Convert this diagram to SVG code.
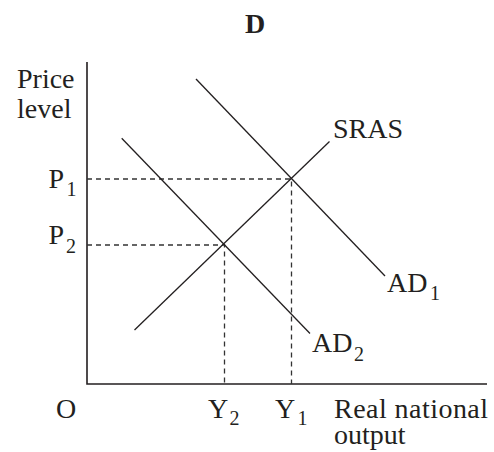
<svg xmlns="http://www.w3.org/2000/svg" width="494" height="452" viewBox="0 0 494 452">
<style>
text{font-family:"Liberation Serif","Times New Roman",serif;font-size:28px;fill:#231f20}
.sub{font-size:20px}
.ln{stroke:#231f20;stroke-width:1.3;fill:none}
.ax{stroke:#231f20;stroke-width:1.6;fill:none}
.dash{stroke:#333;stroke-width:1.3;stroke-dasharray:5,4;fill:none}
</style>
<rect width="494" height="452" fill="#fff"/>
<g id="title"><text x="255" y="33" text-anchor="middle" font-weight="bold">D</text></g>
<g id="axes">
<path class="ax" d="M87,62 V384 H487"/>
<text x="17" y="88">Price<tspan x="17" y="118">level</tspan></text>
<text x="56" y="418">O</text>
<text x="334" y="418"><tspan textLength="154">Real national</tspan><tspan x="334" y="444">output</tspan></text>
</g>
<g id="connectors">
<path class="dash" d="M87,179 H291.5 V384"/>
<path class="dash" d="M87,245 H224.5 V384"/>
</g>
<g id="AD1">
<line class="ln" x1="196" y1="79" x2="385" y2="276"/>
<text x="387" y="292">AD</text><text class="sub" x="430" y="300">1</text>
</g>
<g id="AD2">
<line class="ln" x1="121.7" y1="138.3" x2="310" y2="333.5"/>
<text x="312" y="352">AD</text><text class="sub" x="354" y="361">2</text>
</g>
<g id="SRAS">
<line class="ln" x1="134.5" y1="330" x2="329.5" y2="141.5"/>
<text x="333" y="138">SRAS</text>
</g>
<g id="P1"><text x="48.5" y="188">P</text><text class="sub" x="66.5" y="196">1</text></g>
<g id="P2"><text x="48.5" y="243.5">P</text><text class="sub" x="66" y="252.5">2</text></g>
<g id="Y2"><text x="208" y="418">Y</text><text class="sub" x="229.5" y="425">2</text></g>
<g id="Y1"><text x="275" y="418">Y</text><text class="sub" x="297.5" y="425">1</text></g>
</svg>
